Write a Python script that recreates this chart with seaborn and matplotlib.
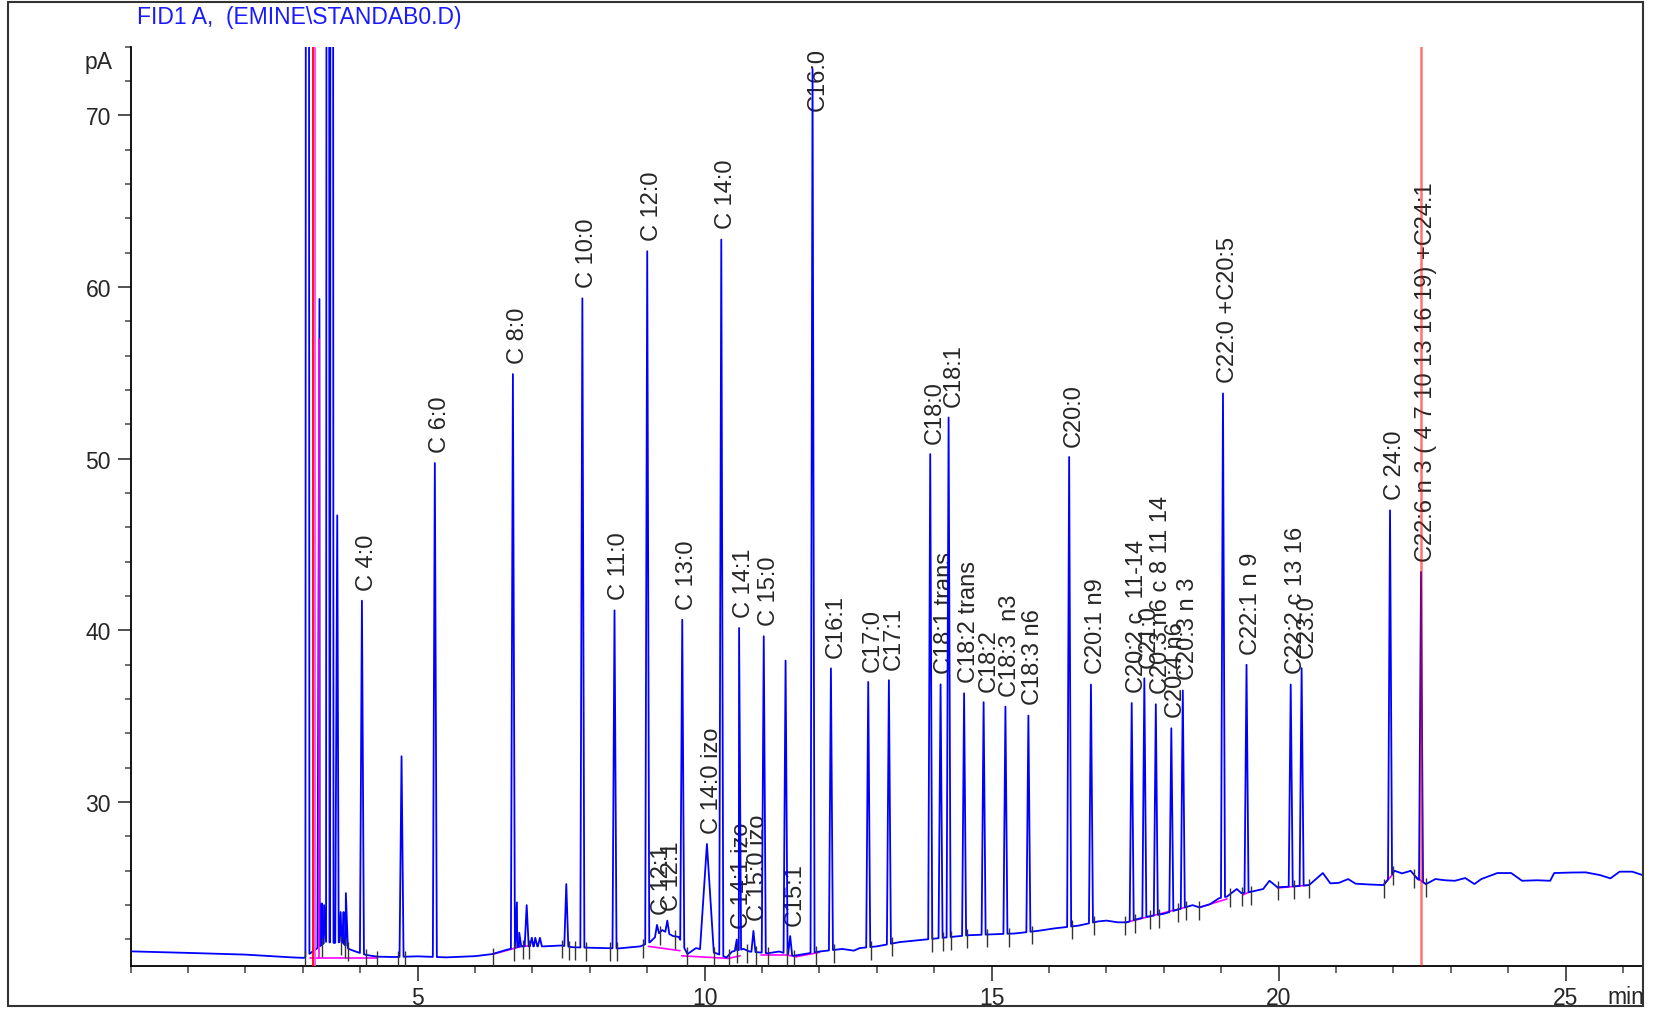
import numpy as np
import pandas as pd
import matplotlib
matplotlib.use("Agg")
import matplotlib.pyplot as plt
import seaborn as sns
from matplotlib.patches import Rectangle
from matplotlib.ticker import MultipleLocator

# retention time (min), apex height (pA), peak label
peak_time = [3.08, 3.29, 3.33, 3.37, 3.44, 3.50, 3.60, 3.66, 3.71, 3.75,
             4.03, 4.72, 5.30, 6.66, 6.73, 6.77, 6.90, 6.99, 7.05, 7.13,
             7.59, 7.87, 8.43, 9.00, 9.17, 9.35, 9.61, 10.29, 10.56, 10.60,
             10.85, 11.03, 11.41, 11.49, 11.88, 12.20, 12.85, 13.21, 13.93, 14.11,
             14.25, 14.52, 14.86, 15.24, 15.64, 16.35, 16.73, 17.44, 17.66, 17.86,
             18.13, 18.33, 19.03, 19.44, 20.21, 20.40, 21.94, 22.48]
peak_height = [300, 59.3, 24.1, 24.0, 300, 300, 46.7, 23.6, 23.6, 24.7,
               41.73, 32.67, 49.75, 54.93, 24.16, 22.4, 24.0, 22.1, 22.1, 22.1,
               25.23, 59.34, 41.17, 62.08, 22.85, 23.1, 40.62, 62.76, 22.0, 40.14,
               22.5, 39.66, 38.24, 22.2, 72.7, 37.79, 37.0, 37.1, 50.27, 36.86,
               52.4, 36.34, 35.82, 35.56, 35.04, 50.1, 36.85, 35.77, 37.21, 35.7,
               34.3, 36.5, 53.8, 38.0, 36.85, 37.8, 46.99, 43.4]
peak_label = ["", "", "", "", "", "", "", "", "", "",
              "C 4:0", "", "C 6:0", "C 8:0", "", "", "", "", "", "",
              "", "C 10:0", "C 11:0", "C 12:0", "C 12:1", "C 12:1", "C 13:0", "C 14:0", "C 14:1 izo", "C 14:1",
              "C 15:0 izo", "C 15:0", "", "C15:1", "C16:0", "C16:1", "C17:0", "C17:1", "C18:0", "C18:1 trans",
              "C18:1", "C18:2 trans", "C18:2", "C18:3  n3", "C18:3 n6", "C20:0", "C20:1 n9", "C20:2 c  11-14",
              "C21:0", "C20:3 n6 c 8 11 14",
              "C20:4 n6", "C20:3 n 3", "C22:0 +C20:5", "C22:1 n 9", "C22:2 c 13 16", "C23:0", "C 24:0",
              "C22:6 n 3 ( 4 7 10 13 16 19) +C24:1"]

# the one broad peak
broad_time = [10.04]
broad_height = [27.56]
broad_label = ["C 14:0 izo"]

# detector baseline
baseline_time = [0.0, 1.0, 2.0, 2.8, 3.02, 3.40, 3.55, 3.68, 3.80, 3.92, 4.10, 4.30, 4.60, 5.00,
                 5.50, 6.00, 6.30, 6.55, 6.80, 7.20, 7.50, 7.70, 8.00, 8.50, 8.88, 9.05, 9.26,
                 9.45, 9.55, 9.70, 9.85, 10.20, 10.38, 10.48, 10.68, 10.78, 10.95, 11.10, 11.30,
                 11.55, 12.00, 12.40, 12.60, 12.70, 13.00, 13.40, 13.70, 14.00, 14.30, 14.60,
                 15.00, 15.40, 15.80, 16.10, 16.50, 16.85, 17.00, 17.20, 17.35, 17.55, 17.75,
                 18.00, 18.37, 18.50, 18.62, 18.80, 18.96, 19.10, 19.27, 19.35, 19.48, 19.73,
                 19.84, 19.98, 20.30, 20.53, 20.77, 20.90, 21.05, 21.21, 21.34, 21.60, 21.83,
                 22.02, 22.15, 22.30, 22.42, 22.57, 22.73, 22.90, 23.07, 23.25, 23.41, 23.53,
                 23.81, 24.05, 24.24, 24.50, 24.73, 24.80, 25.10, 25.35, 25.60, 25.78, 25.94,
                 26.16, 26.34]
baseline_level = [21.31, 21.22, 21.12, 20.96, 20.93, 21.86, 21.8, 21.86, 21.45, 21.3, 21.1, 21.0, 20.98, 21.02,
                  20.96, 21.03, 21.15, 21.4, 21.6, 21.6, 21.65, 21.55, 21.52, 21.48, 21.6, 21.85, 22.55,
                  22.2, 22.15, 21.15, 21.5, 21.2, 20.95, 21.3, 21.45, 21.3, 21.25, 21.2, 21.3,
                  21.05, 21.3, 21.45, 21.35, 21.5, 21.6, 21.85, 21.95, 22.05, 22.15, 22.25,
                  22.3, 22.35, 22.5, 22.65, 22.8, 23.05, 23.1, 23.0, 23.0, 23.2, 23.35,
                  23.5, 23.87, 24.0, 23.87, 24.05, 24.4, 24.5, 24.94, 24.7, 24.75, 24.94,
                  25.42, 25.04, 25.1, 25.17, 25.87, 25.27, 25.3, 25.52, 25.25, 25.2, 25.17,
                  26.0, 25.85, 26.0, 25.52, 25.23, 25.52, 25.45, 25.42, 25.58, 25.23, 25.52,
                  25.87, 25.87, 25.42, 25.45, 25.42, 25.87, 25.9, 25.91, 25.75, 25.56, 25.95,
                  25.95, 25.75]

# integration baselines (magenta)
seg_t0 = [3.13, 6.32, 6.81, 9.02, 9.60, 10.41, 10.98, 11.42, 11.60, 17.35, 18.62, 19.38, 19.98, 21.83, 22.37]
seg_y0 = [20.90, 21.15, 21.60, 21.60, 21.05, 20.90, 21.10, 21.10, 21.00, 23.00, 23.87, 24.60, 25.00, 25.20, 25.70]
seg_t1 = [4.29, 6.81, 6.95, 9.57, 10.41, 10.62, 11.42, 11.60, 12.00, 18.37, 19.10, 19.51, 20.53, 21.99, 22.57]
seg_y1 = [20.90, 21.60, 21.60, 21.35, 20.90, 21.05, 21.10, 21.00, 21.25, 23.87, 24.36, 24.80, 25.17, 25.80, 25.20]

# peak start / end event marks
event_time = [3.03, 3.34, 3.66, 3.74, 3.79, 4.10, 4.30, 4.66, 4.78, 6.31, 6.68, 6.83, 6.94,
              7.51, 7.64, 7.74, 7.93, 8.35, 8.47, 8.93, 9.22, 9.48, 9.69, 10.16, 10.43, 10.57,
              10.74, 10.90, 11.10, 11.44, 11.55, 11.94, 12.25, 12.90, 13.27, 13.96, 14.16, 14.30,
              14.57, 14.92, 15.30, 15.70, 16.40, 16.78, 17.33, 17.49, 17.75, 17.91, 18.25, 18.38,
              18.62, 19.16, 19.37, 19.51, 19.98, 20.27, 20.52, 21.83, 22.00, 22.36, 22.57]

solvent_red = 3.17
solvent_magenta = 3.21
marker_red = 22.48

W, H = 1656, 1012
sns.set_style("ticks")
plt.rcParams['font.family'] = ['Liberation Sans', 'DejaVu Sans']

fig = plt.figure(figsize=(W / 100, H / 100), dpi=100)
ax = fig.add_axes([130.6 / W, 1 - 966.6 / H, (1642.6 - 130.6) / W, (966.6 - 47.6) / H])

# build the trace: baseline knots plus a narrow triangle for every peak
base_t = np.array(baseline_time)
base_y = np.array(baseline_level)
apex_t = np.array(peak_time + broad_time)
apex_y = np.array(peak_height + broad_height, dtype=float)
half = np.r_[np.full(len(peak_time), 0.035), np.full(len(broad_time), 0.12)]

keep = np.ones(len(base_t), bool)
for t, h in zip(apex_t, half):
    keep &= np.abs(base_t - t) >= h

t_all = np.r_[base_t[keep], apex_t - half, apex_t, apex_t + half]
y_all = np.r_[base_y[keep], np.interp(apex_t - half, base_t, base_y), apex_y,
              np.interp(apex_t + half, base_t, base_y)]
order = np.argsort(t_all, kind="stable")
trace = pd.DataFrame({"min": t_all[order], "pA": y_all[order]})
trace = trace[(trace["min"] >= 0) & (trace["min"] <= 26.34)]

sns.lineplot(data=trace, x="min", y="pA", sort=False, estimator=None,
             color="#0000ff", lw=1.3, ax=ax, zorder=3)

for t0, y0, t1, y1 in zip(seg_t0, seg_y0, seg_t1, seg_y1):
    ax.plot([t0, t1], [y0, y1], color="#ff00ff", lw=1.2, zorder=2.5)

ev = np.array(event_time)
ev_y = np.interp(ev, base_t, base_y)
ax.vlines(ev, ev_y - 0.75, ev_y + 0.35, color="#333333", lw=1.0, zorder=4)

ax.axvline(solvent_red, color="red", lw=1.3, zorder=4)
ax.axvline(solvent_magenta, color="#ff44ff", lw=1.3, zorder=4)
ax.plot([3.29, 3.29], [20.9, 57.0], color="#ff00ff", lw=1.2, zorder=3.5)

# peak labels
for t, h, lab in zip(peak_time + broad_time, peak_height + broad_height, peak_label + broad_label):
    if not lab:
        continue
    if h > 68:
        ax.annotate(lab, (t, 1), xycoords=("data", "axes fraction"), xytext=(3.5, 0),
                    textcoords="offset points", rotation=90, ha="center", va="top",
                    fontsize=17, zorder=1)
    else:
        ax.annotate(lab, (t, h), xytext=(3.5, 8), textcoords="offset points",
                    rotation=90, ha="center", va="bottom", fontsize=17, zorder=1)

ax.axvline(marker_red, color="red", alpha=0.55, lw=1.8, zorder=5)

ax.set_xlim(0, 26.34)
ax.set_ylim(20.48, 74.0)
ax.set_xlabel("")
ax.set_ylabel("")
ax.xaxis.set_major_locator(MultipleLocator(5))
ax.xaxis.set_minor_locator(MultipleLocator(1))
ax.yaxis.set_major_locator(MultipleLocator(10))
ax.yaxis.set_minor_locator(MultipleLocator(2))
ax.set_xticks([5, 10, 15, 20, 25])
ax.set_yticks([30, 40, 50, 60, 70])
ax.tick_params(axis="x", which="major", length=10.8, width=1.1, pad=3.6, labelsize=16.5, color="#222222")
ax.tick_params(axis="x", which="minor", length=5.2, width=1.1, color="#444444")
ax.tick_params(axis="y", which="major", length=9.4, width=1.1, pad=4.7, labelsize=16.5, color="#222222")
ax.tick_params(axis="y", which="minor", length=4.3, width=1.1, color="#444444")
for side in ["top", "right"]:
    ax.spines[side].set_visible(False)
for side in ["left", "bottom"]:
    ax.spines[side].set_color("black")
    ax.spines[side].set_linewidth(1.3)

fig.text(137 / W, 1 - 17.5 / H, "FID1 A,  (EMINE\\STANDAB0.D)", color="#1a1aff",
         fontsize=16.5, ha="left", va="center")
fig.text(99 / W, 1 - 62 / H, "pA", fontsize=16.5, ha="center", va="center")
fig.text(1626 / W, 1 - 998 / H, "min", fontsize=16.5, ha="center", va="center")

fig.patches.append(Rectangle((8 / W, 1 - 1007 / H), (1643 - 8) / W, (1007 - 3) / H,
                             transform=fig.transFigure, fill=False, ec="#333333", lw=1.5))

fig.savefig("out.png", dpi=100)
